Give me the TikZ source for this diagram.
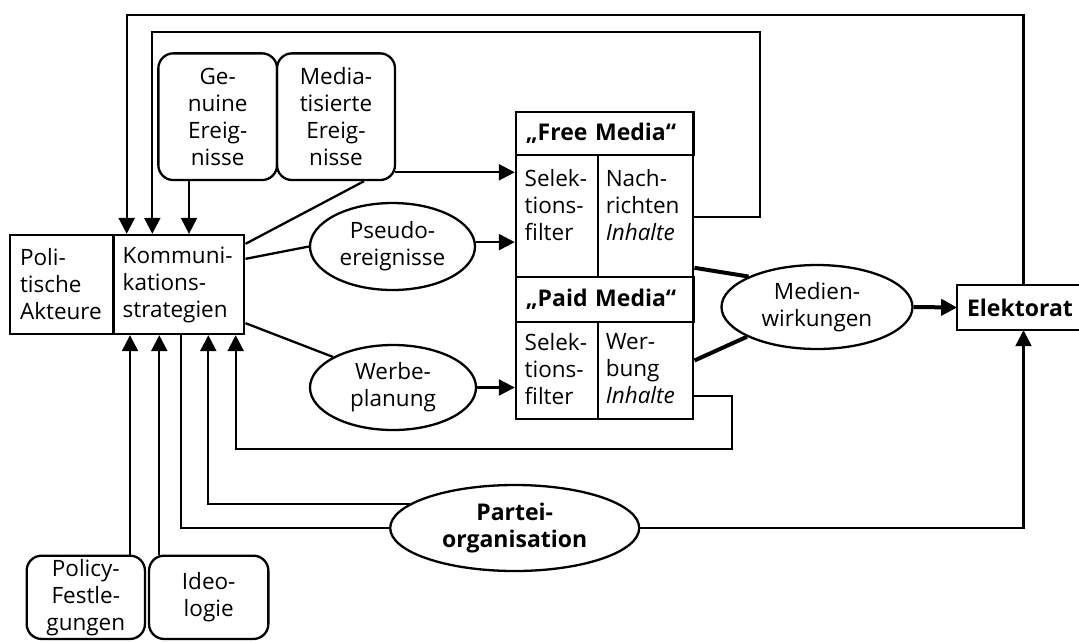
\documentclass[tikz,border=0pt]{standalone}
\usepackage{fontspec}
\setmainfont{Open Sans}
\usetikzlibrary{arrows.meta,calc,shapes.geometric}
\newcommand{\rfont}{\fontsize{22.5}{27}\selectfont}
\newcommand{\bfont}{\fontsize{23}{27}\selectfont\bfseries}
\tikzset{
  every node/.style={font=\rfont},
  box/.style={draw, line width=2.3pt, inner sep=0pt},
  rbox/.style={box, rounded corners=15pt, align=center},
  ell/.style={draw, ellipse, line width=2.3pt, inner sep=0pt, align=center},
  txt/.style={align=left, inner sep=0pt},
  ln/.style={line width=2.3pt},
  tk/.style={line width=4pt},
  arr/.style={ln, -{Triangle[length=16pt,width=16pt]}},
}
\begin{document}
\begin{tikzpicture}[x=1pt,y=-1pt]
\useasboundingbox (0,0) rectangle (1079,641);
% boxes
\node[box, minimum width=103.3pt, minimum height=99pt, text width=83.3pt, align=left] (pol) at (61.7,284.5) {Poli-\\tische\\Akteure};
\node[box, minimum width=131pt, minimum height=99pt, text width=112.2pt, align=left] (komm) at (178.8,284.5) {Kommuni-\\kations-\\strategien};
\node[rbox, minimum width=118.7pt, minimum height=126.7pt] (gen) at (217.7,116.7) {Ge-\\nuine\\Ereig-\\nisse};
\node[rbox, minimum width=118pt, minimum height=126.7pt] (med) at (336,116.7) {Media-\\tisierte\\Ereig-\\nisse};
% free media
\node[box, minimum width=177.3pt, minimum height=43.3pt, text width=157.9pt, align=left, font=\bfont] (ftitle) at (604.7,133.3) {„Free Media“};
\node[box, minimum width=81.7pt, minimum height=121.7pt] (fsel) at (556.8,215.8) {};
\node[box, minimum width=95.6pt, minimum height=121.7pt] (fnach) at (645.5,215.8) {};
\node[txt, anchor=north west] (fselt) at ([xshift=9.7pt,yshift=-15pt]fsel.north west) {Selek-\\tions-\\filter};
\node[txt, anchor=north west] (fnacht) at ([xshift=9pt,yshift=-15pt]fnach.north west) {Nach-\\richten\\\textit{Inhalte}};
% paid media
\node[box, minimum width=177.3pt, minimum height=45pt, text width=157.9pt, align=left, font=\bfont] (ptitle) at (604.7,299.2) {„Paid Media“};
\node[box, minimum width=81.7pt, minimum height=97.3pt] (psel) at (556.8,370.3) {};
\node[box, minimum width=95.6pt, minimum height=97.3pt] (pnach) at (645.5,370.3) {};
\node[txt, anchor=north west] (pselt) at ([xshift=9.7pt,yshift=-13pt]psel.north west) {Selek-\\tions-\\filter};
\node[txt, anchor=north west] (pnacht) at ([xshift=9pt,yshift=-13pt]pnach.north west) {Wer-\\bung\\\textit{Inhalte}};
% ellipses
\node[ell, minimum width=165pt, minimum height=87pt] (pseudo) at (392.5,246.5) {Pseudo-\\ereignisse};
\node[ell, minimum width=166pt, minimum height=85pt] (werbe) at (393,387.5) {Werbe-\\planung};
\node[ell, minimum width=191pt, minimum height=84pt] (medien) at (817,307) {Medien-\\wirkungen};
\node[ell, minimum width=249pt, minimum height=86pt, font=\bfont] (partei) at (514.7,528) {Partei-\\organisation};
% Elektorat (right side cut by the picture edge)
\node[inner sep=0pt, minimum width=121.7pt, minimum height=45pt] (elek) at (1018.2,307.5) {};
\draw[ln] (elek.north east) -- (elek.north west) -- (elek.south west) -- (elek.south east);
\node[txt, anchor=west, font=\bfont] (elekt) at ([xshift=9.7pt]elek.west) {Elektorat};
\node[rbox, minimum width=118.3pt, minimum height=83.3pt] (polf) at (85.8,597.3) {Policy-\\Festle-\\gungen};
\node[rbox, minimum width=119.3pt, minimum height=83.3pt] (ideo) at (208.7,597.3) {Ideo-\\logie};
% coordinates
\coordinate (xa) at (126.7,15);
\coordinate (xb) at (1023.5,15);
\coordinate (ya) at (152.3,32.3);
\coordinate (yb) at (760,32.3);
\coordinate (yc) at (760,217.3);
\coordinate (g) at (189,0);
\coordinate (m) at (364,0);
\coordinate (mr) at (395,172.3);
\coordinate (fb) at (731.7,449);
\coordinate (k236) at (235.7,0);
\coordinate (k208) at (208.3,0);
\coordinate (k181) at (181,0);
\coordinate (p130) at (130,0);
\coordinate (p159) at (159.3,0);
% connectors
\draw[arr] (elek.north -| xb) -- (xb) -- (xa) -- (komm.north -| xa);
\draw[arr] (fnach.east |- yc) -- (yc) -- (yb) -- (ya) -- (komm.north -| ya);
\draw[arr] (gen.south -| g) -- (komm.north -| g);
\draw[ln] (med.south -| m) -- ([yshift=-10pt]komm.north east);
\draw[arr] (mr) -- (fsel.west |- mr);
\draw[ln] ([yshift=-25pt]komm.north east) -- (pseudo.west);
\draw[arr] (pseudo.3.5) -- (fsel.west |- pseudo.3.5);
\draw[ln] ([yshift=12pt]komm.south east) -- (werbe.153);
\draw[arr] (werbe.east) -- (psel.west |- werbe.east);
\draw[tk] ([yshift=10pt]fnach.south east) -- (medien.156);
\draw[tk] ([yshift=-40pt]pnach.north east) -- (medien.203);
\draw[tk, -{Triangle[length=16pt,width=16pt]}] (medien.east) -- (elek.west);
\draw[arr] ([yshift=24pt]pnach.south east) -| (fb) -| (komm.south -| k236);
\draw[arr] (partei.167) -| (komm.south -| k208);
\draw[ln] (komm.south -| k181) |- (partei.west);
\draw[arr] (partei.east) -| (elek.south -| xb);
\draw[arr] (polf.north -| p130) -- (komm.south -| p130);
\draw[arr] (ideo.north -| p159) -- (komm.south -| p159);
\end{tikzpicture}
\end{document}
